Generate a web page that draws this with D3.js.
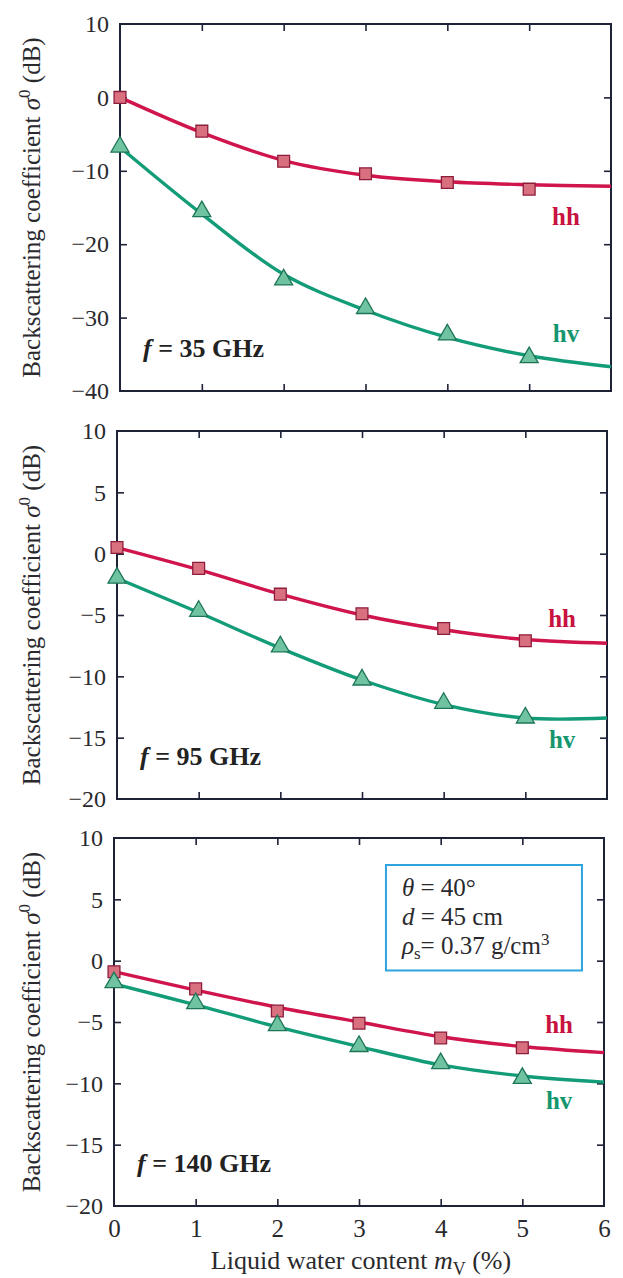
<!DOCTYPE html>
<html>
<head>
<meta charset="utf-8">
<script src="https://cdn.jsdelivr.net/npm/d3@7/dist/d3.min.js"></script>
<style>
  html, body { margin: 0; padding: 0; background: #ffffff; }
  svg { display: block; }
  text { font-family: "Liberation Serif", "Times New Roman", serif; }
</style>
</head>
<body>
<svg id="chart" width="623" height="1278"></svg>
<script>
// Measured points: liquid water content (%) vs backscattering coefficient (dB)
const waterContent = [0, 1, 2, 3, 4, 5];
const hh35 = [0.0, -4.6, -8.7, -10.4, -11.6, -12.5];
const hv35 = [-6.6, -15.4, -24.7, -28.6, -32.2, -35.3];
const hh95 = [0.5, -1.2, -3.3, -4.9, -6.1, -7.1];
const hv95 = [-1.9, -4.6, -7.5, -10.2, -12.1, -13.3];
const hh140 = [-0.9, -2.3, -4.1, -5.1, -6.3, -7.1];
const hv140 = [-1.7, -3.4, -5.2, -6.9, -8.3, -9.5];

// Fitted model curves, sampled along the water-content axis
const curveX = [0, 1, 2, 3, 4, 5, 6];
const hh35Fit = [0.0, -4.8, -8.6, -10.6, -11.5, -11.9, -12.1];
const hv35Fit = [-6.8, -15.9, -24.1, -29.0, -32.7, -35.2, -36.7];
const hh95Fit = [0.5, -1.3, -3.3, -5.0, -6.2, -7.0, -7.3];
const hv95Fit = [-2.0, -4.8, -7.7, -10.3, -12.3, -13.4, -13.4];
const hh140Fit = [-0.9, -2.4, -3.8, -5.0, -6.2, -7.0, -7.5];
const hv140Fit = [-1.9, -3.6, -5.4, -7.0, -8.5, -9.4, -9.9];

// Axis settings
const xDomain = [0, 6];
const xTicks = [0, 1, 2, 3, 4, 5, 6];
const yDomain35 = [-40, 10];
const yTicks35 = [-40, -30, -20, -10, 0, 10];
const yDomainHi = [-20, 10];
const yTicksHi = [-20, -15, -10, -5, 0, 5, 10];
const freqLabels = ["35", "95", "140"];

// Series label anchors (x, dB) per panel
const hhLabelAt = [[5.45, -16.6], [5.45, -5.5], [5.45, -5.4]];
const hvLabelAt = [[5.45, -32.6], [5.45, -15.4], [5.45, -11.6]];

const panels = [
  { freq: freqLabels[0], yDomain: yDomain35, yTicks: yTicks35, hh: hh35, hv: hv35, hhFit: hh35Fit, hvFit: hv35Fit,
    box: { left: 120, right: 611, top: 24, bottom: 391 } },
  { freq: freqLabels[1], yDomain: yDomainHi, yTicks: yTicksHi, hh: hh95, hv: hv95, hhFit: hh95Fit, hvFit: hv95Fit,
    box: { left: 117, right: 607, top: 431, bottom: 799 } },
  { freq: freqLabels[2], yDomain: yDomainHi, yTicks: yTicksHi, hh: hh140, hv: hv140, hhFit: hh140Fit, hvFit: hv140Fit,
    box: { left: 114, right: 604, top: 838, bottom: 1206 } }
];

const HH_LINE = "#d0144c", HV_LINE = "#139c78";
const HH_FILL = "#d9707f", HH_EDGE = "#8e1d3b";
const HV_FILL = "#6fc3a0", HV_EDGE = "#1d7557";
const FRAME = "#1e2236";
const TEXT = "#2a2a2e";
const minus = s => String(s).replace("-", "\u2212");

const svg = d3.select("#chart");

panels.forEach((p, i) => {
  const b = p.box;
  const x = d3.scaleLinear().domain(xDomain).range([b.left, b.right]);
  const y = d3.scaleLinear().domain(p.yDomain).range([b.bottom, b.top]);
  const g = svg.append("g");

  // inward ticks on all four sides
  const innerTicks = p.yTicks.slice(1, -1);
  const xInner = xTicks.slice(1, -1);

  const left = g.append("g").attr("transform", `translate(${b.left},0)`)
    .call(d3.axisLeft(y).tickValues(p.yTicks).tickSize(-7).tickPadding(11).tickFormat(minus));
  left.select(".domain").remove();
  left.selectAll(".tick line").filter(d => !innerTicks.includes(d)).remove();
  left.selectAll("text").attr("font-size", 24).attr("fill", TEXT)
    .attr("font-family", "Liberation Serif, serif");

  const right = g.append("g").attr("transform", `translate(${b.right},0)`)
    .call(d3.axisRight(y).tickValues(innerTicks).tickSize(-7).tickFormat(""));
  right.select(".domain").remove();

  const top = g.append("g").attr("transform", `translate(0,${b.top})`)
    .call(d3.axisTop(x).tickValues(xInner).tickSize(-7).tickFormat(""));
  top.select(".domain").remove();

  const bottom = g.append("g").attr("transform", `translate(0,${b.bottom})`)
    .call(d3.axisBottom(x).tickValues(i === 2 ? xTicks : xInner).tickSize(-7).tickPadding(13)
      .tickFormat(i === 2 ? d3.format("d") : ""));
  bottom.select(".domain").remove();
  bottom.selectAll(".tick line").filter(d => !xInner.includes(d)).remove();
  bottom.selectAll("text").attr("font-size", 25).attr("fill", TEXT)
    .attr("font-family", "Liberation Serif, serif");

  g.selectAll(".tick line").attr("stroke", FRAME).attr("stroke-width", 1.6);

  // frame
  g.append("rect")
    .attr("x", b.left).attr("y", b.top)
    .attr("width", b.right - b.left).attr("height", b.bottom - b.top)
    .attr("fill", "none").attr("stroke", FRAME).attr("stroke-width", 2);

  // fitted curves
  const line = d3.line().x((d, k) => x(curveX[k])).y(d => y(d)).curve(d3.curveCatmullRom.alpha(0.5));
  g.append("path").attr("d", line(p.hhFit)).attr("fill", "none")
    .attr("stroke", HH_LINE).attr("stroke-width", 3.4);
  g.append("path").attr("d", line(p.hvFit)).attr("fill", "none")
    .attr("stroke", HV_LINE).attr("stroke-width", 3.4);

  // markers
  const sq = d3.symbol().type(d3.symbolSquare).size(140);
  const tri = d3.symbol().type(d3.symbolTriangle).size(140);
  g.selectAll(".hh").data(p.hh).join("path")
    .attr("transform", (d, k) => `translate(${x(waterContent[k])},${y(d)})`)
    .attr("d", sq).attr("fill", HH_FILL).attr("stroke", HH_EDGE).attr("stroke-width", 1.3);
  g.selectAll(".hv").data(p.hv).join("path")
    .attr("transform", (d, k) => `translate(${x(waterContent[k])},${y(d) + 1})`)
    .attr("d", tri).attr("fill", HV_FILL).attr("stroke", HV_EDGE).attr("stroke-width", 1.3);

  // series labels
  g.append("text").attr("x", x(hhLabelAt[i][0])).attr("y", y(hhLabelAt[i][1]))
    .attr("text-anchor", "middle").attr("dominant-baseline", "middle")
    .attr("font-size", 25).attr("font-weight", "bold").attr("fill", "#c8123f").text("hh");
  g.append("text").attr("x", x(hvLabelAt[i][0])).attr("y", y(hvLabelAt[i][1]))
    .attr("text-anchor", "middle").attr("dominant-baseline", "middle")
    .attr("font-size", 25).attr("font-weight", "bold").attr("fill", "#15966f").text("hv");

  // frequency label
  const fl = g.append("text").attr("x", b.left + 23).attr("y", b.bottom - 34)
    .attr("font-size", 26).attr("font-weight", "bold").attr("fill", "#222");
  fl.append("tspan").attr("font-style", "italic").text("f");
  fl.append("tspan").text(` = ${p.freq} GHz`);

  // y-axis title
  const yt = svg.append("text")
    .attr("transform", `translate(40,${(b.top + b.bottom) / 2}) rotate(-90)`)
    .attr("text-anchor", "middle").attr("font-size", 25).attr("fill", TEXT);
  yt.append("tspan").text("Backscattering coefficient ");
  yt.append("tspan").attr("font-style", "italic").text("σ");
  yt.append("tspan").attr("font-size", 17).attr("dy", -10).text("0");
  yt.append("tspan").attr("dy", 10).text(" (dB)");

  // parameter box on the last panel
  if (i === 2) {
    const bx0 = x(3.33), bx1 = x(5.73), by0 = y(7.8), by1 = y(-0.8);
    g.append("rect").attr("x", bx0).attr("y", by0).attr("width", bx1 - bx0).attr("height", by1 - by0)
      .attr("fill", "#ffffff").attr("stroke", "#2ea4dd").attr("stroke-width", 2);
    const tx = bx0 + 16;
    const t1 = g.append("text").attr("x", tx).attr("y", by0 + 31).attr("font-size", 25).attr("fill", TEXT);
    t1.append("tspan").attr("font-style", "italic").text("θ");
    t1.append("tspan").text(" = 40°");
    const t2 = g.append("text").attr("x", tx).attr("y", by0 + 60).attr("font-size", 25).attr("fill", TEXT);
    t2.append("tspan").attr("font-style", "italic").text("d");
    t2.append("tspan").text(" = 45 cm");
    const t3 = g.append("text").attr("x", tx).attr("y", by0 + 89).attr("font-size", 25).attr("fill", TEXT);
    t3.append("tspan").attr("font-style", "italic").text("ρ");
    t3.append("tspan").attr("font-size", 17).attr("dy", 5).text("s");
    t3.append("tspan").attr("dy", -5).text("= 0.37 g/cm");
    t3.append("tspan").attr("font-size", 17).attr("dy", -9).text("3");

    // x-axis title
    const xt = svg.append("text").attr("x", (b.left + b.right) / 2 + 2).attr("y", b.bottom + 63)
      .attr("text-anchor", "middle").attr("font-size", 26).attr("fill", TEXT);
    xt.append("tspan").text("Liquid water content ");
    xt.append("tspan").attr("font-style", "italic").text("m");
    xt.append("tspan").attr("font-size", 18).attr("dy", 6).text("V");
    xt.append("tspan").attr("dy", -6).text(" (%)");
  }
});
</script>
</body>
</html>
